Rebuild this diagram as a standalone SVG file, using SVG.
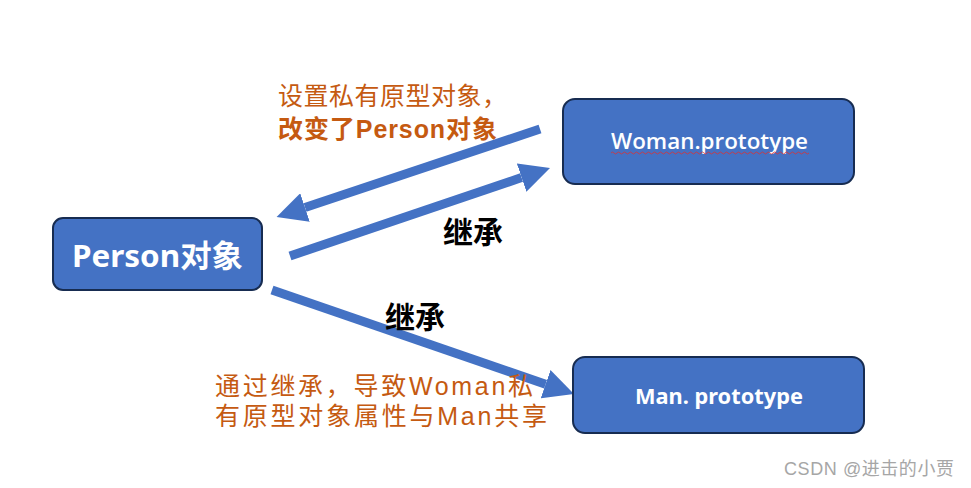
<svg xmlns="http://www.w3.org/2000/svg" width="971" height="488" viewBox="0 0 971 488">
<defs>
<style>
.box{fill:#4472C4;stroke:#172C51;stroke-width:2}
.lbl{fill:#FFFFFF;font-family:"Noto Sans","Noto Sans CJK SC",sans-serif;font-weight:bold;text-anchor:middle}
.conn{stroke:#4472C4;stroke-width:9;fill:none}
.note{fill:#C55A11;font-family:"Liberation Sans","Noto Sans CJK SC",sans-serif;font-size:25px}
.inh{fill:#000000;font-family:"Noto Sans CJK SC",sans-serif;font-size:30px;font-weight:bold}
</style>
<marker id="ah" markerUnits="userSpaceOnUse" markerWidth="30" markerHeight="30" refX="0" refY="15" orient="auto">
<path d="M0,0 L30,15 L0,30 Z" fill="#4472C4"/>
</marker>
</defs>
<rect width="971" height="488" fill="#FFFFFF"/>
<g id="connectors">
<line class="conn" x1="540" y1="129" x2="305" y2="207.5" marker-end="url(#ah)"/>
<line class="conn" x1="290" y1="256" x2="521.6" y2="177.6" marker-end="url(#ah)"/>
<line class="conn" x1="272" y1="290" x2="545.6" y2="384.2" marker-end="url(#ah)"/>
</g>
<g id="person">
<rect class="box" x="53" y="218" width="209" height="72" rx="10"/>
<text class="lbl" x="157.5" y="267" font-size="31" textLength="171" lengthAdjust="spacingAndGlyphs">Person对象</text>
</g>
<g id="woman">
<rect class="box" x="563" y="99" width="291" height="85" rx="12"/>
<text class="lbl" x="709.5" y="149" font-size="21" style="font-family:'Open Sans','Noto Sans',sans-serif;font-weight:600" textLength="197" lengthAdjust="spacingAndGlyphs">Woman.prototype</text>
<path d="M611,153 q1.5,-2 3,0 t3,0 t3,0 t3,0 t3,0 t3,0 t3,0 t3,0 t3,0 t3,0 t3,0 t3,0 t3,0 t3,0 t3,0 t3,0 t3,0 t3,0 t3,0 t3,0 t3,0 t3,0 t3,0 t3,0 t3,0 t3,0 t3,0 t3,0 t3,0 t3,0 t3,0 t3,0 t3,0 t3,0 t3,0 t3,0 t3,0 t3,0 t3,0 t3,0 t3,0 t3,0 t3,0 t3,0 t3,0 t3,0 t3,0 t3,0 t3,0 t3,0 t3,0 t3,0 t3,0 t3,0 t3,0 t3,0 t3,0 t3,0 t3,0 t3,0 t3,0 t3,0 t3,0 t3,0 t3,0 t3,0" fill="none" stroke="#E03030" stroke-width="0.8"/>
</g>
<g id="man">
<rect class="box" x="573" y="357" width="291" height="76" rx="12"/>
<text class="lbl" x="719" y="404" font-size="21" textLength="168" lengthAdjust="spacingAndGlyphs">Man. prototype</text>
</g>
<g id="labels">
<text class="note" x="278" y="105" textLength="229">设置私有原型对象，</text>
<text class="note" x="278" y="138" font-weight="bold" textLength="219">改变了Person对象</text>
<text class="inh" x="443" y="243">继承</text>
<text class="inh" x="385" y="328">继承</text>
<text class="note" x="215" y="395" font-size="26" textLength="318">通过继承，导致Woman私</text>
<text class="note" x="215" y="425" font-size="26" textLength="332">有原型对象属性与Man共享</text>
<text x="784" y="475" font-family="Liberation Sans,'Noto Sans CJK SC',sans-serif" font-size="18" fill="#A6A6A6" textLength="170">CSDN @进击的小贾</text>
</g>
</svg>
